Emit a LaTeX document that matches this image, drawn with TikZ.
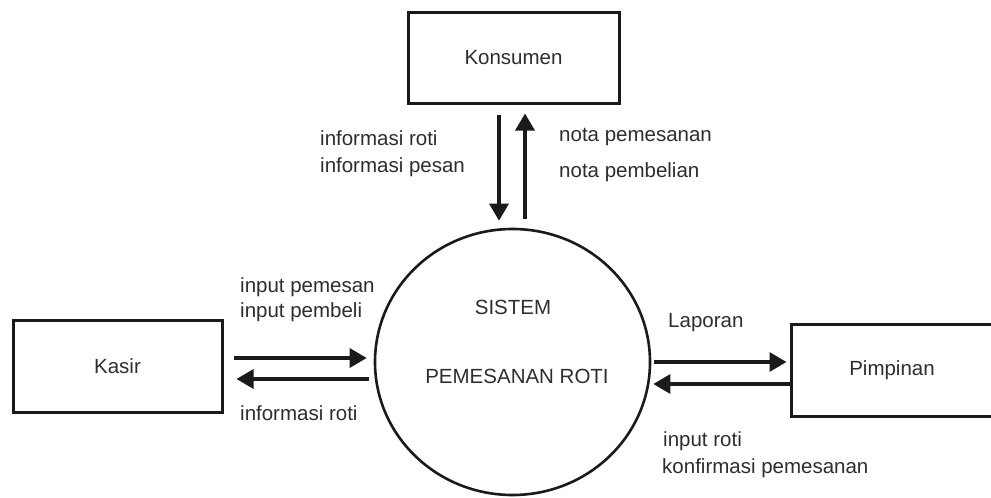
\documentclass[tikz,border=0pt]{standalone}
\usepackage{fontspec}
\setmainfont{Liberation Sans}
\usetikzlibrary{arrows.meta,shapes.geometric}

\definecolor{ink}{HTML}{1A1A1A}
\definecolor{txt}{HTML}{2E2E2E}

\tikzset{
  entity/.style={draw=ink, line width=3pt, rectangle, inner sep=0pt,
                 text=txt, font=\fontsize{20.5}{24}\selectfont},
  process/.style={draw=ink, line width=2.6pt, ellipse, inner sep=0pt},
  proctext/.style={text=txt, font=\fontsize{20.5}{24}\selectfont, inner sep=0pt},
  flowlabel/.style={text=txt, font=\fontsize{20.5}{24}\selectfont,
                    anchor=base west, inner sep=0pt},
  flow/.style={draw=ink, line width=3.2pt,
               -{Triangle[length=17pt,width=19pt]}},
}

\begin{document}
\begin{tikzpicture}[x=1pt, y=-1pt]
  \useasboundingbox (0,0) rectangle (991,498);
  \clip (0,0) rectangle (991,498);
  \fill[white] (0,0) rectangle (991,498);

  % external entities
  \node[entity, minimum width=211pt, minimum height=91pt] (kons) at (513.5,57.5) {Konsumen};
  \node[entity, minimum width=209pt, minimum height=92pt] (kasir) at (117.5,366) {Kasir};
  \node[entity, minimum width=202pt, minimum height=92pt] (pimp) at (892,370) {Pimpinan};

  % the process
  \node[process, minimum width=275pt, minimum height=266pt] (sys) at (512.5,362) {};
  \node[proctext] (sysA) at (513,307) {SISTEM};
  \node[proctext] (sysB) at (517,376) {PEMESANAN ROTI};

  % data flows: Konsumen
  \draw[flow] ([xshift=-14.5pt,yshift=-10pt]kons.south) -- ([xshift=-13.5pt,yshift=7pt]sys.north);
  \draw[flow] ([xshift=12.5pt,yshift=9pt]sys.north) -- ([xshift=11.5pt,yshift=-9pt]kons.south);

  % data flows: Kasir
  \draw[flow] ([xshift=10pt,yshift=8pt]kasir.east) -- ([xshift=-7pt,yshift=4pt]sys.west);
  \draw[flow] ([xshift=-5pt,yshift=-17pt]sys.west) -- ([xshift=13pt,yshift=-13pt]kasir.east);

  % data flows: Pimpinan
  \draw[flow] ([xshift=3pt]sys.east) -- ([xshift=-3pt,yshift=8pt]pimp.west);
  \draw[flow] ([yshift=-14pt]pimp.west) -- ([xshift=2pt,yshift=-22pt]sys.east);

  % flow labels
  \node[flowlabel] (l1) at (320,145) {informasi roti};
  \node[flowlabel] (l2) at (320,172) {informasi pesan};
  \node[flowlabel] (l3) at (559,141) {nota pemesanan};
  \node[flowlabel] (l4) at (559,177) {nota pembelian};
  \node[flowlabel] (l5) at (240,292) {input pemesan};
  \node[flowlabel] (l6) at (240,317) {input pembeli};
  \node[flowlabel] (l7) at (240,420) {informasi roti};
  \node[flowlabel] (l8) at (668,327) {Laporan};
  \node[flowlabel] (l9) at (663,446) {input roti};
  \node[flowlabel] (l10) at (662,473) {konfirmasi pemesanan};
\end{tikzpicture}
\end{document}
